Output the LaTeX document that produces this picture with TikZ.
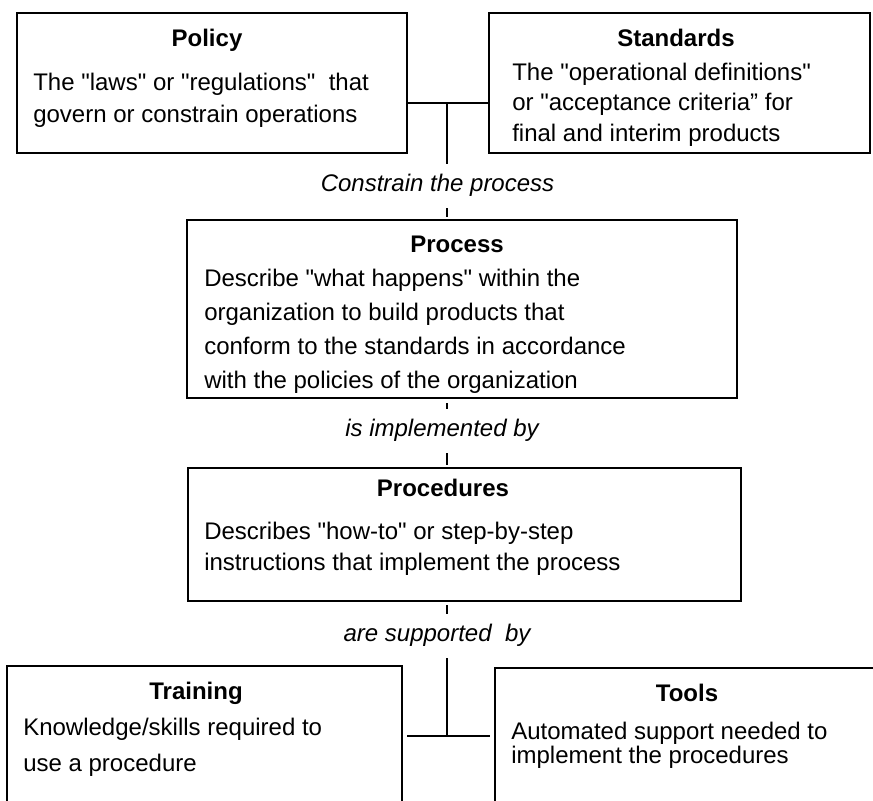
\documentclass[tikz,border=0pt]{standalone}
\usepackage{fontspec}
\setmainfont{Liberation Sans}[Ligatures=TeXOff]
\begin{document}
\begin{tikzpicture}[x=0.5pt,y=-0.5pt,line width=1.3pt,
    box/.style={draw,rectangle,inner sep=0pt},
    head/.style={font=\fontsize{12}{14}\selectfont\bfseries,anchor=base,inner sep=0pt},
    body/.style={font=\fontsize{12}{#1}\selectfont,align=left,anchor=north west,inner sep=0pt},
    body/.default=16pt,
    rel/.style={font=\fontsize{12}{14}\selectfont\itshape,text height=9pt,text depth=3pt,inner xsep=0pt,inner ysep=4.5pt}]

    \clip (0,0) rectangle (873,801);

    \node[box,minimum width=195pt,minimum height=70pt] (policy) at (212,83) {};
    \node[head] (policyhead) at (207,46.5) {Policy};
    \node[body=16pt] (policytext) at (32,71.5) {The "laws" or "regulations"~ that\\govern or constrain operations};

    \node[box,minimum width=190.5pt,minimum height=70pt] (standards) at (679.5,83) {};
    \node[head] (standardshead) at (676,46.5) {Standards};
    \node[body=15.25pt] (standardstext) at (511,61.5) {The "operational definitions"\\or "acceptance criteria” for\\final and interim products};

    \node[box,minimum width=275pt,minimum height=89pt] (proc) at (462,309) {};
    \node[head] (prochead) at (457,252.5) {Process};
    \node[body=17pt] (proctext) at (203,267.5) {Describe "what happens" within the\\organization to build products that\\conform to the standards in accordance\\with the policies of the organization};

    \node[box,minimum width=276.5pt,minimum height=66.5pt] (procs) at (464.5,534.5) {};
    \node[head] (procshead) at (443,496.5) {Procedures};
    \node[body=15.5pt] (procstext) at (203,520.5) {Describes "how-to" or step-by-step\\instructions that implement the process};

    \node[box,minimum width=197.5pt,minimum height=87pt] (train) at (204.5,753) {};
    \node[head] (trainhead) at (196,699.5) {Training};
    \node[body=18pt] (traintext) at (22,716.5) {Knowledge/skills required to\\use a procedure};

    \node[box,minimum width=197.5pt,minimum height=86pt] (tools) at (692.5,754) {};
    \node[head] (toolshead) at (687,701.5) {Tools};
    \node[body=12pt] (toolstext) at (510,720.5) {Automated support needed to\\implement the procedures};

    \node[rel] (cp) at (437.5,186) {Constrain the process};
    \node[rel] (impl) at (442,431) {is implemented by};
    \node[rel] (sup) at (437,636) {are supported~ by};

    \coordinate (jtop) at (447,103);
    \coordinate (jbot) at (447,736);

    \draw (policy.east |- jtop) -- (standards.west |- jtop);
    \draw (jtop) -- (cp.north -| jtop);
    \draw[shorten >=1pt] (cp.south -| jtop) -- (proc.north -| jtop);
    \draw[shorten <=2pt] (proc.south -| jtop) -- (impl.north -| jtop);
    \draw[shorten >=1pt] (impl.south -| jtop) -- (procs.north -| jtop);
    \draw[shorten <=1.5pt] (procs.south -| jtop) -- (sup.north -| jtop);
    \draw (sup.south -| jtop) -- (jbot);
    \draw[shorten <=2pt,shorten >=2pt] (train.east |- jbot) -- (tools.west |- jbot);

\end{tikzpicture}
\end{document}
